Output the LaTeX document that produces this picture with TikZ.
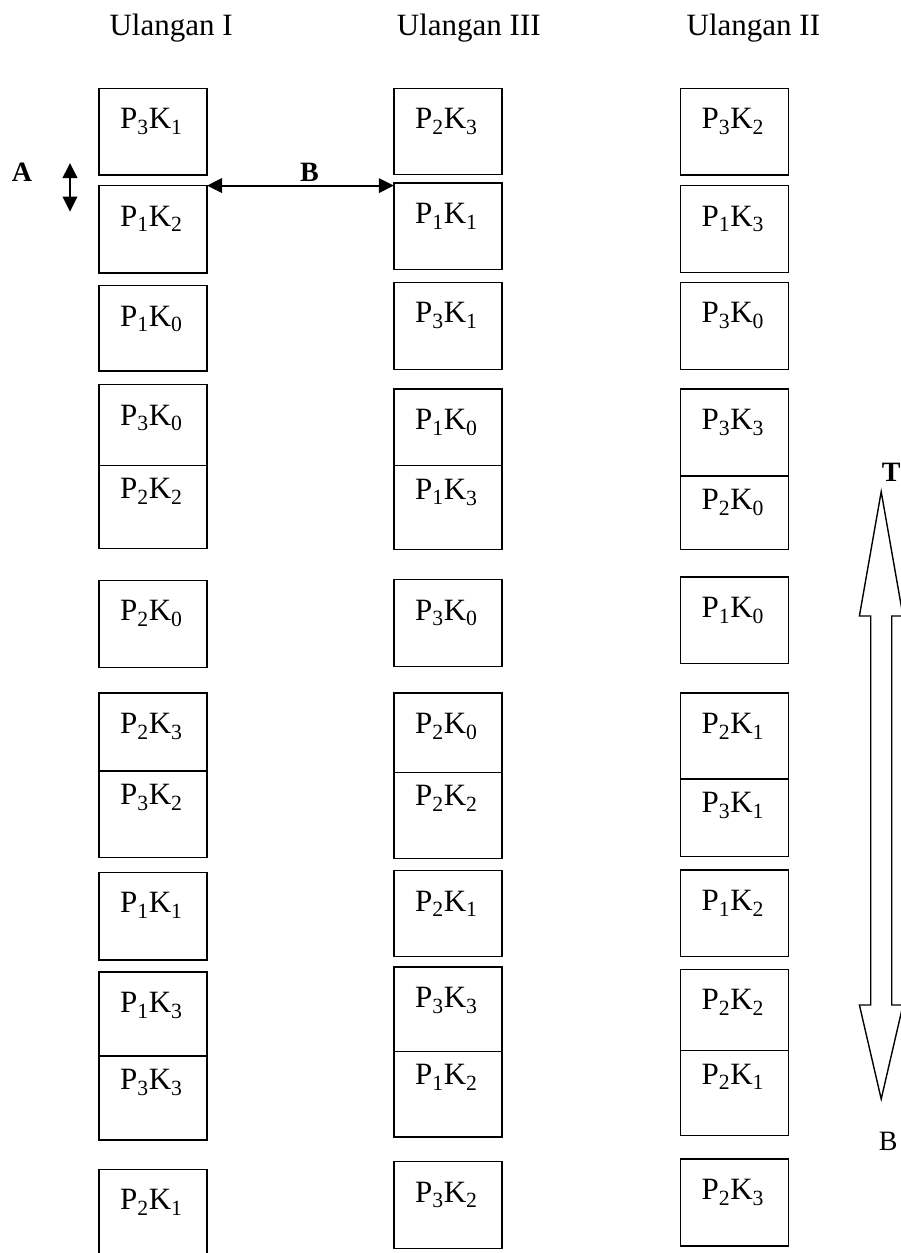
\documentclass[tikz,border=0pt]{standalone}
\usepackage{fontspec}
\setmainfont{Liberation Serif}
\usetikzlibrary{arrows.meta}
\newcommand\PKlab[2]{P\textsubscript{#1}K\textsubscript{#2}}
\begin{document}
\begin{tikzpicture}[x=1pt,y=-1pt,
  box/.style={draw, line width=1.4pt, inner sep=0pt, outer sep=0pt, minimum width=108pt, anchor=north west},
  lab/.style={anchor=base west, inner sep=0pt, font=\fontsize{31}{36}\selectfont},
  head/.style={anchor=base west, inner sep=0pt, font=\fontsize{31}{36}\selectfont},
  side/.style={anchor=base west, inner sep=0pt, font=\fontsize{28}{32}\selectfont},
  divider/.style={line width=1.4pt},
  dblarrow/.style={line width=2pt, {Triangle[width=14.5pt,length=15pt]}-{Triangle[width=14.5pt,length=15pt]}}
]
\useasboundingbox (0,0) rectangle (901,1253);
\clip (0,0) rectangle (901,1253);

% headers
\node[head] (h1) at (109.3,35) {Ulangan I};
\node[head] (h2) at (396.7,35) {Ulangan III};
\node[head] (h3) at (686.5,35) {Ulangan II};

% ---------- column 1 ----------
\node[box, minimum height=86.7pt] (a1) at (99,88.3) {};
\node[lab] (la1) at (120,128.8) {\PKlab{3}{1}};
\node[box, minimum height=87.4pt] (a2) at (99,185.6) {};
\node[lab] (la2) at (120,226.1) {\PKlab{1}{2}};
\node[box, minimum height=85.5pt] (a3) at (99,285.5) {};
\node[lab] (la3) at (120,326) {\PKlab{1}{0}};
\node[box, minimum height=164pt] (a4) at (99,384.6) {};
\coordinate (a4m) at (99,465.3);
\draw[divider] (a4m) -- (a4m -| a4.east);
\node[lab] (la4) at (120,425.1) {\PKlab{3}{0}};
\node[lab] (la5) at (120,498.8) {\PKlab{2}{2}};
\node[box, minimum height=87.1pt] (a6) at (99,580.3) {};
\node[lab] (la6) at (120,620.8) {\PKlab{2}{0}};
\node[box, minimum height=164.4pt] (a7) at (99,692.9) {};
\coordinate (a7m) at (99,770.8);
\draw[divider] (a7m) -- (a7m -| a7.east);
\node[lab] (la7) at (120,733.4) {\PKlab{2}{3}};
\node[lab] (la8) at (120,804.3) {\PKlab{3}{2}};
\node[box, minimum height=87.4pt] (a9) at (99,872.4) {};
\node[lab] (la9) at (120,912.9) {\PKlab{1}{1}};
\node[box, minimum height=168.1pt] (a10) at (99,971.9) {};
\coordinate (a10m) at (99,1055.8);
\draw[divider] (a10m) -- (a10m -| a10.east);
\node[lab] (la10) at (120,1012.4) {\PKlab{1}{3}};
\node[lab] (la11) at (120,1089.3) {\PKlab{3}{3}};
\node[box, minimum height=120pt] (a12) at (99,1169.2) {};
\node[lab] (la12) at (120,1209.7) {\PKlab{2}{1}};

% ---------- column 2 ----------
\node[box, minimum height=86pt] (b1) at (393.8,88.3) {};
\node[lab] (lb1) at (415,128.8) {\PKlab{2}{3}};
\node[box, minimum height=86.4pt] (b2) at (393.8,182.9) {};
\node[lab] (lb2) at (415,223.4) {\PKlab{1}{1}};
\node[box, minimum height=86.8pt] (b3) at (393.8,282.4) {};
\node[lab] (lb3) at (415,322.9) {\PKlab{3}{1}};
\node[box, minimum height=160.3pt] (b4) at (393.8,389.1) {};
\coordinate (b4m) at (393.8,465.7);
\draw[divider] (b4m) -- (b4m -| b4.east);
\node[lab] (lb4) at (415,429.6) {\PKlab{1}{0}};
\node[lab] (lb5) at (415,499.2) {\PKlab{1}{3}};
\node[box, minimum height=86.7pt] (b6) at (393.8,579.5) {};
\node[lab] (lb6) at (415,620) {\PKlab{3}{0}};
\node[box, minimum height=165.6pt] (b7) at (393.8,692.9) {};
\coordinate (b7m) at (393.8,772.3);
\draw[divider] (b7m) -- (b7m -| b7.east);
\node[lab] (lb7) at (415,733.4) {\PKlab{2}{0}};
\node[lab] (lb8) at (415,805.8) {\PKlab{2}{2}};
\node[box, minimum height=86.2pt] (b9) at (393.8,870.5) {};
\node[lab] (lb9) at (415,911) {\PKlab{2}{1}};
\node[box, minimum height=170.1pt] (b10) at (393.8,966.9) {};
\coordinate (b10m) at (393.8,1051.2);
\draw[divider] (b10m) -- (b10m -| b10.east);
\node[lab] (lb10) at (415,1007.4) {\PKlab{3}{3}};
\node[lab] (lb11) at (415,1084.7) {\PKlab{1}{2}};
\node[box, minimum height=86.9pt] (b12) at (393.8,1161.6) {};
\node[lab] (lb12) at (415,1202.1) {\PKlab{3}{2}};

% ---------- column 3 ----------
\node[box, minimum height=86.7pt] (c1) at (680.3,88.3) {};
\node[lab] (lc1) at (701.5,128.8) {\PKlab{3}{2}};
\node[box, minimum height=86.7pt] (c2) at (680.3,185.6) {};
\node[lab] (lc2) at (701.5,226.1) {\PKlab{1}{3}};
\node[box, minimum height=86.8pt] (c3) at (680.3,282.4) {};
\node[lab] (lc3) at (701.5,322.9) {\PKlab{3}{0}};
\node[box, minimum height=160.3pt] (c4) at (680.3,389.1) {};
\coordinate (c4m) at (680.3,475.9);
\draw[divider] (c4m) -- (c4m -| c4.east);
\node[lab] (lc4) at (701.5,429.6) {\PKlab{3}{3}};
\node[lab] (lc5) at (701.5,509.4) {\PKlab{2}{0}};
\node[box, minimum height=86.7pt] (c6) at (680.3,576.9) {};
\node[lab] (lc6) at (701.5,617.4) {\PKlab{1}{0}};
\node[box, minimum height=163.7pt] (c7) at (680.3,692.9) {};
\coordinate (c7m) at (680.3,779.1);
\draw[divider] (c7m) -- (c7m -| c7.east);
\node[lab] (lc7) at (701.5,733.4) {\PKlab{2}{1}};
\node[lab] (lc8) at (701.5,812.6) {\PKlab{3}{1}};
\node[box, minimum height=86.9pt] (c9) at (680.3,869.8) {};
\node[lab] (lc9) at (701.5,910.3) {\PKlab{1}{2}};
\node[box, minimum height=166.3pt] (c10) at (680.3,969.2) {};
\coordinate (c10m) at (680.3,1050.5);
\draw[divider] (c10m) -- (c10m -| c10.east);
\node[lab] (lc10) at (701.5,1009.7) {\PKlab{2}{2}};
\node[lab] (lc11) at (701.5,1084) {\PKlab{2}{1}};
\node[box, minimum height=86.9pt] (c12) at (680.3,1159) {};
\node[lab] (lc12) at (701.5,1199.5) {\PKlab{2}{3}};

% ---------- A and B markers ----------
\node[side, font=\fontsize{28}{32}\selectfont\bfseries] (labA) at (11.7,181.7) {A};
\coordinate (aTop) at (70,163);
\coordinate (aBot) at (70,211.7);
\draw[dblarrow] (aTop) -- (aBot);
\node[side, font=\fontsize{28}{32}\selectfont\bfseries] (labB) at (300,181.7) {B};
\draw[dblarrow] (a2.north east) -- (a2.north east -| b2.west);

% ---------- T / B direction arrow ----------
\coordinate (tTip) at (881.2,491.7);
\coordinate (bTip) at (881.2,1099);
\draw[line width=1.4pt, line join=miter]
  (tTip) -- (859.4,616) -- (870.7,616) -- (870.7,1005) -- (859.4,1005)
  -- (bTip) -- (903,1005) -- (891.7,1005) -- (891.7,616) -- (903,616) -- cycle;
\node[side, font=\fontsize{28}{32}\selectfont\bfseries] (labT) at (881.7,481.7) {T};
\node[side] (labBot) at (878.7,1150) {B};
\end{tikzpicture}
\end{document}
